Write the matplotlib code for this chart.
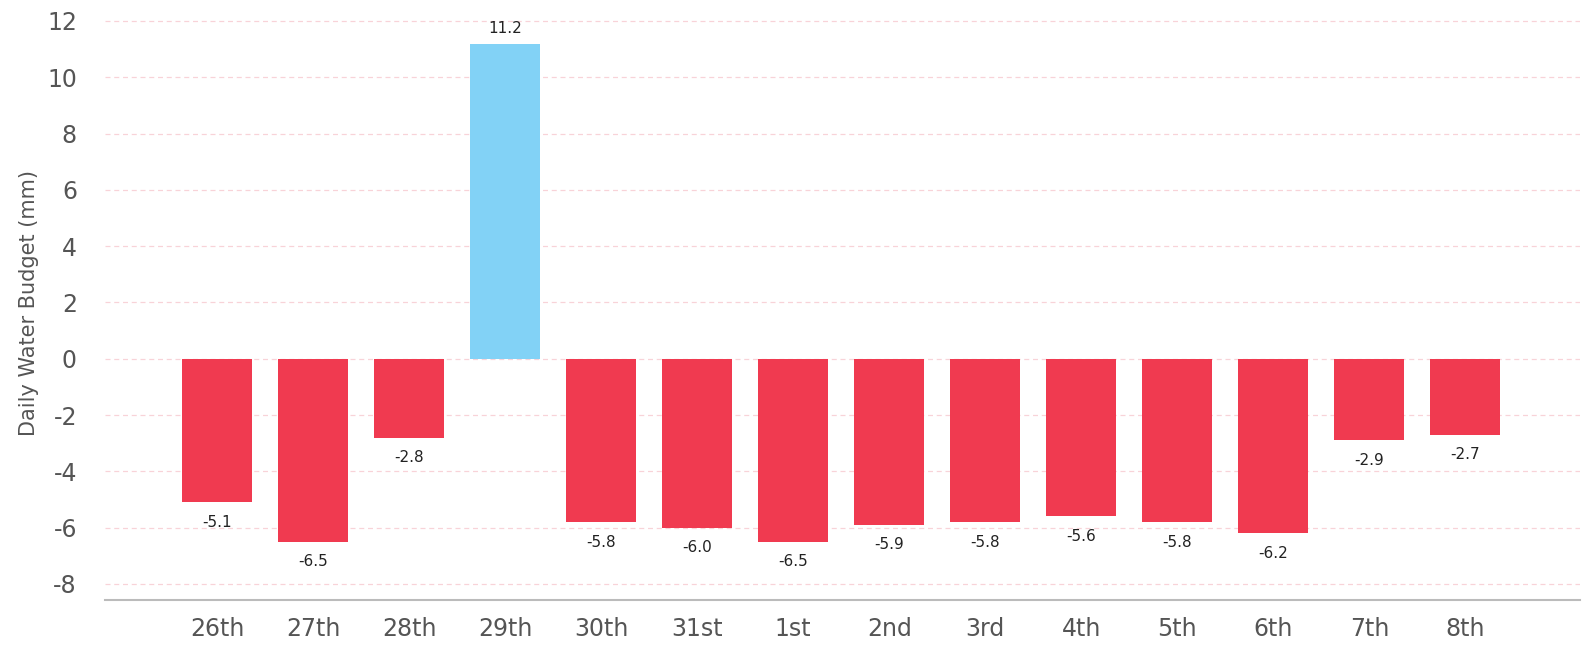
import matplotlib
matplotlib.use('Agg')
from matplotlib import pyplot as plt

# Дневной водный баланс
days = ['26th', '27th', '28th', '29th', '30th', '31st', '1st', '2nd',
        '3rd', '4th', '5th', '6th', '7th', '8th']
budget = [-5.1, -6.5, -2.8, 11.2, -5.8, -6.0, -6.5, -5.9,
          -5.8, -5.6, -5.8, -6.2, -2.9, -2.7]

red = '#f03a50'
blue = '#82d2f6'
colors = [blue if v > 0 else red for v in budget]

plt.rcParams['font.family'] = 'DejaVu Sans'
plt.rcParams['axes.unicode_minus'] = False

fig = plt.figure(dpi=100, figsize=(15.86, 6.5))
ax = fig.add_axes([0.066, 0.077, 0.93, 0.913])

x = list(range(len(days)))
ax.bar(x, budget, width=0.73, color=colors, zorder=2)

for xi, v in zip(x, budget):
    if v > 0:
        ax.text(xi, v + 0.25, f'{v:.1f}', ha='center', va='bottom',
                fontsize=11, color='#222222')
    else:
        ax.text(xi, v - 0.45, f'{v:.1f}', ha='center', va='top',
                fontsize=11, color='#222222')

ax.set_xlim(-1.17, 14.19)
ax.set_ylim(-8.57, 12.515)
ax.set_yticks(range(-8, 13, 2))
ax.set_xticks(x)
ax.set_xticklabels(days)

ax.yaxis.grid(True, linestyle=(0, (4, 3)), color='#f8d3d8', linewidth=0.9, zorder=0)
ax.set_axisbelow(True)

for side in ['top', 'right', 'left']:
    ax.spines[side].set_visible(False)
ax.spines['bottom'].set_color('#bbbbbb')
ax.spines['bottom'].set_linewidth(1.5)

ax.tick_params(axis='both', length=0, labelsize=17, labelcolor='#555555')
ax.tick_params(axis='x', pad=12)
ax.tick_params(axis='y', pad=20)
ax.set_ylabel('Daily Water Budget (mm)', fontsize=15, color='#555555', labelpad=6)

plt.savefig('out.png')
